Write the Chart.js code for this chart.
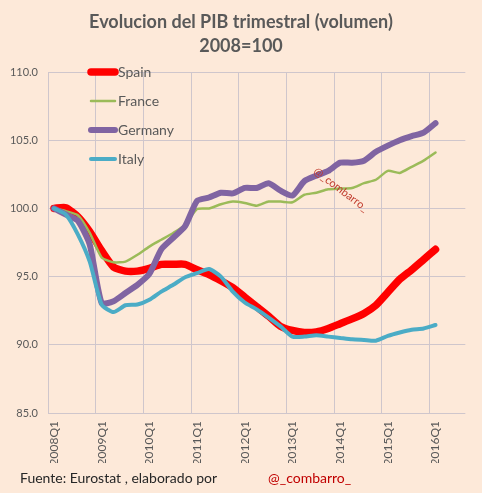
<!DOCTYPE html>
<html><head><meta charset="utf-8">
<script src="https://cdn.jsdelivr.net/npm/chart.js@4"></script>
<style>html,body{margin:0;padding:0;background:#fde9d9;}#wrap{width:482px;height:493px;position:relative;}</style>
</head><body><div id="wrap"><canvas id="c"></canvas></div>
<script>
const quarters = ['2008Q1','2008Q2','2008Q3','2008Q4','2009Q1','2009Q2','2009Q3','2009Q4',
  '2010Q1','2010Q2','2010Q3','2010Q4','2011Q1','2011Q2','2011Q3','2011Q4',
  '2012Q1','2012Q2','2012Q3','2012Q4','2013Q1','2013Q2','2013Q3','2013Q4',
  '2014Q1','2014Q2','2014Q3','2014Q4','2015Q1','2015Q2','2015Q3','2015Q4',
  '2016Q1','2016Q2','2016Q3'];
const spain = [100,100.05,99.4,98.3,96.9,95.7,95.4,95.4,95.6,95.9,95.9,95.9,95.5,95.15,94.7,94.2,
  93.5,92.8,92.1,91.35,91.05,90.9,90.95,91.2,91.55,91.9,92.3,92.9,93.85,94.8,95.5,96.25,97.0];
const france = [100,99.8,99.5,98.2,96.4,96.05,96.1,96.6,97.2,97.7,98.2,98.8,99.95,100.0,100.3,100.5,
  100.4,100.2,100.5,100.5,100.45,101.0,101.15,101.4,101.45,101.5,101.85,102.1,102.75,102.6,103.05,103.5,104.1];
const germany = [100,99.55,99.1,97.35,93.05,93.2,93.8,94.4,95.2,97.0,97.85,98.7,100.55,100.8,101.15,101.1,
  101.5,101.5,101.85,101.3,100.95,102.0,102.4,102.75,103.35,103.35,103.5,104.15,104.6,105.0,105.3,105.55,106.25];
const italy = [100,99.55,98.1,96.1,92.95,92.4,92.9,92.95,93.3,93.9,94.4,94.95,95.25,95.55,95.0,93.9,
  93.1,92.6,92.0,91.35,90.6,90.6,90.7,90.6,90.5,90.4,90.35,90.3,90.65,90.9,91.1,91.2,91.45];
const seriesNames = ['Spain','France','Germany','Italy'];
const titleLines = ['Evolucion del PIB trimestral (volumen)','2008=100'];
const sourceText = 'Fuente: Eurostat , elaborado por';
const authorText = '@_combarro_';

const gridColor = '#cfc6cc';
const textColor = '#595959';
const FONT = 'Lato';

const decor = {
  id:'decor',
  beforeDraw(chart){
    const ctx = chart.ctx; ctx.save();
    ctx.fillStyle = '#fde9d9'; ctx.fillRect(0,0,chart.width,chart.height);
    ctx.restore();
  },
  afterDraw(chart){
    const ctx = chart.ctx; const ca = chart.chartArea;
    ctx.save();
    ctx.fillStyle = textColor; ctx.textAlign = 'center'; ctx.textBaseline = 'middle';
    ctx.font = 'bold 18px ' + FONT;
    ctx.fillText(titleLines[0], 241, 22);
    ctx.fillText(titleLines[1], 241, 46);
    // legend
    chart.data.datasets.forEach((ds, i) => {
      const y = ca.top + i * 29;
      ctx.strokeStyle = ds.borderColor; ctx.lineWidth = ds.borderWidth; ctx.lineCap = 'round';
      ctx.beginPath(); ctx.moveTo(91, y); ctx.lineTo(115, y); ctx.stroke();
      ctx.fillStyle = textColor; ctx.textAlign = 'left'; ctx.font = '14px ' + FONT;
      ctx.fillText(ds.label, 118, y);
    });
    // footer
    ctx.textAlign = 'left'; ctx.font = '14px ' + FONT;
    ctx.fillStyle = '#262626';
    ctx.fillText(sourceText, 20, 478);
    ctx.fillStyle = '#c00000';
    ctx.fillText(authorText, 268, 478);
    // watermark
    ctx.translate(315, 170); ctx.rotate(37 * Math.PI / 180);
    ctx.fillStyle = '#c0392b'; ctx.font = '11px ' + FONT; ctx.textAlign = 'left';
    ctx.fillText(authorText, 0, 0);
    ctx.restore();
  }
};

new Chart(document.getElementById('c'), {
  type: 'line',
  data: {
    labels: quarters,
    datasets: [
      {label: seriesNames[0], data: spain, borderColor:'#ff0000', borderWidth:7.5, order:3},
      {label: seriesNames[1], data: france, borderColor:'#9bbb59', borderWidth:2.5, order:2},
      {label: seriesNames[2], data: germany, borderColor:'#8064a2', borderWidth:6, order:1},
      {label: seriesNames[3], data: italy, borderColor:'#4bacc6', borderWidth:4, order:0}
    ]
  },
  options: {
    responsive:true, maintainAspectRatio:false, animation:false,
    layout:{padding:{left:0,right:15,top:72,bottom:30}},
    plugins:{legend:{display:false}, title:{display:false}, tooltip:{enabled:false}},
    elements:{point:{radius:0}, line:{tension:0.2, borderCapStyle:'round', borderJoinStyle:'round', fill:false}},
    scales:{
      x:{
        type:'category', offset:true,
        grid:{offset:true, drawTicks:false, lineWidth:1,
          color: c => (c.index % 4 === 0 && c.index < quarters.length) ? gridColor : 'rgba(0,0,0,0)'},
        border:{display:false},
        ticks:{autoSkip:false, maxRotation:90, minRotation:90, padding:8, color:textColor,
          font:{size:12, family:FONT},
          callback:function(v,i){ return i % 4 === 0 ? this.getLabelForValue(v) : ''; }},
        afterFit: s => { s.height = 50; }
      },
      y:{
        min:85, max:110,
        ticks:{stepSize:5, padding:10, color:textColor, font:{size:11, family:FONT},
          callback: v => Number(v).toFixed(1)},
        grid:{color:gridColor, drawTicks:false},
        border:{display:true, color:gridColor},
        afterFit: s => { s.width = 48; }
      }
    }
  },
  plugins:[decor]
});
</script>
</body></html>
